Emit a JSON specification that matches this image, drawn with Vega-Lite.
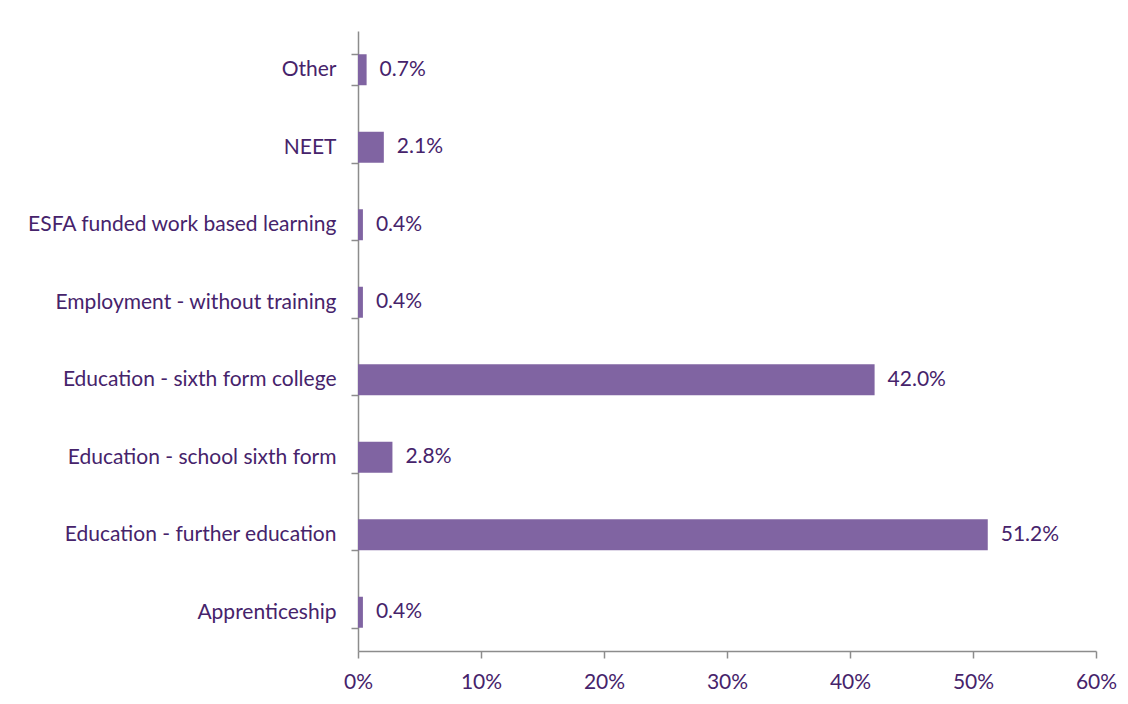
{
  "$schema": "https://vega.github.io/schema/vega-lite/v6.json",
  "autosize": {"type": "none"},
  "padding": {"left": 358, "top": 31, "right": 32, "bottom": 53},
  "width": 738,
  "height": 620,
  "background": "white",
  "config": {
    "view": {"stroke": null},
    "font": "Lato",
    "axis": {"grid": false, "domainColor": "#8c8c8c", "tickColor": "#8c8c8c", "domainWidth": 1.5, "tickWidth": 1.5, "labelColor": "#46236b", "labelFont": "Lato", "labelFontSize": 21, "tickSize": 7, "title": null}
  },
  "data": {"values": [
    {"category": "Other", "value": 0.007},
    {"category": "NEET", "value": 0.021},
    {"category": "ESFA funded work based learning", "value": 0.004},
    {"category": "Employment - without training", "value": 0.004},
    {"category": "Education - sixth form college", "value": 0.420},
    {"category": "Education - school sixth form", "value": 0.028},
    {"category": "Education - further education", "value": 0.512},
    {"category": "Apprenticeship", "value": 0.004}
  ]},
  "encoding": {
    "y": {"field": "category", "type": "nominal", "sort": null,
      "scale": {"paddingInner": 0.6, "paddingOuter": 0.3},
      "axis": {"tickBand": "extent", "labelPadding": 15, "labelLimit": 400}},
    "x": {"field": "value", "type": "quantitative",
      "scale": {"domain": [0, 0.6], "nice": false},
      "axis": {"format": ".0%", "values": [0, 0.1, 0.2, 0.3, 0.4, 0.5, 0.6], "labelPadding": 13, "labelFlush": false}}
  },
  "layer": [
    {"mark": {"type": "bar", "color": "#8064a2"}},
    {"mark": {"type": "text", "align": "left", "baseline": "middle", "dx": 13, "fontSize": 21, "color": "#46236b", "font": "Lato"},
     "encoding": {"text": {"field": "value", "type": "quantitative", "format": ".1%"}}}
  ]
}
